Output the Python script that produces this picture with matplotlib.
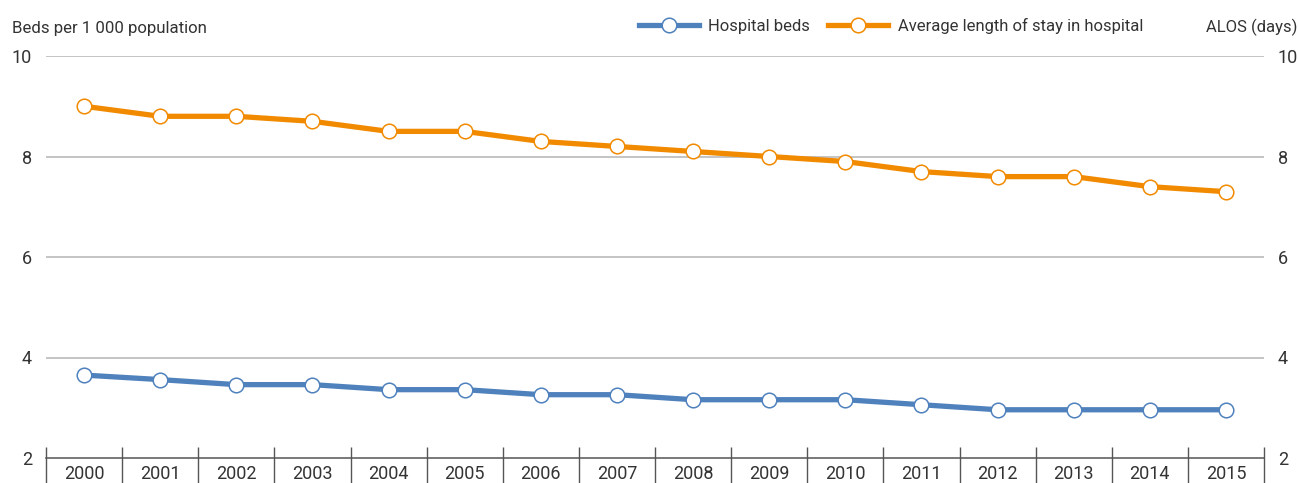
import numpy as np
import matplotlib
matplotlib.use("Agg")
import matplotlib.pyplot as plt
import matplotlib.transforms as mtransforms

plt.rcParams['font.family'] = ['Roboto', 'DejaVu Sans']

years = ["2000", "2001", "2002", "2003", "2004", "2005", "2006", "2007",
         "2008", "2009", "2010", "2011", "2012", "2013", "2014", "2015"]
hospital_beds = [3.65, 3.56, 3.46, 3.46, 3.36, 3.36, 3.26, 3.26,
                 3.16, 3.16, 3.16, 3.06, 2.96, 2.96, 2.96, 2.96]
alos = [9.0, 8.8, 8.8, 8.7, 8.5, 8.5, 8.3, 8.2,
        8.1, 8.0, 7.9, 7.7, 7.6, 7.6, 7.4, 7.3]

BLUE = "#4f81bd"
ORANGE = "#f28a00"
TXT = "#333333"

fig = plt.figure(figsize=(12.98, 4.83), dpi=100)
ax = fig.add_axes([46 / 1298, 25 / 483, (1264 - 46) / 1298, (458 - 56) / 483])

x = np.arange(len(years))
ax.plot(x, hospital_beds, color=BLUE, lw=3.8, marker="o", ms=10.5,
        mfc="white", mec=BLUE, mew=1.1, label="Hospital beds", zorder=3)
ax.plot(x, alos, color=ORANGE, lw=3.8, marker="o", ms=10.5,
        mfc="white", mec=ORANGE, mew=1.1, label="Average length of stay in hospital", zorder=3)

ax.set_xlim(-0.5, len(years) - 0.5)
ax.set_ylim(2, 10)
ax.set_yticks([2, 4, 6, 8, 10])
for v in [4, 6, 8, 10]:
    ax.axhline(v, color="#b4b4b4", lw=1.1, zorder=1)

for s in ["top", "left", "right"]:
    ax.spines[s].set_visible(False)
ax.spines["bottom"].set_color("#555555")
ax.spines["bottom"].set_linewidth(1.1)

# category separators
trans = mtransforms.blended_transform_factory(ax.transData, ax.transAxes)
ax.vlines(np.arange(-0.5, len(years), 1.0), -0.08, 0.028, transform=trans,
          color="#555555", lw=1.0, clip_on=False)

ax.set_xticks(x)
ax.set_xticklabels(years, fontsize=13, color=TXT)
ax.tick_params(axis="x", length=0, pad=5)

ax.tick_params(axis="y", length=0, labelsize=13, labelcolor=TXT, pad=10,
               labelright=True)

fig.text(12 / 1298, 1 - 28 / 483, "Beds per 1 000 population", fontsize=12.1,
         color=TXT, va="center", ha="left")
fig.text(1297 / 1298, 1 - 27 / 483, "ALOS (days)", fontsize=12,
         color=TXT, va="center", ha="right")

ax.legend(loc="center left", bbox_to_anchor=(639 / 1298, 1 - 26 / 483),
          bbox_transform=fig.transFigure, ncol=2, frameon=False,
          fontsize=12, handlelength=3.6, columnspacing=1.1,
          handletextpad=0.55, labelcolor=TXT, borderaxespad=0, borderpad=0)

fig.savefig("out.png", dpi=100)
